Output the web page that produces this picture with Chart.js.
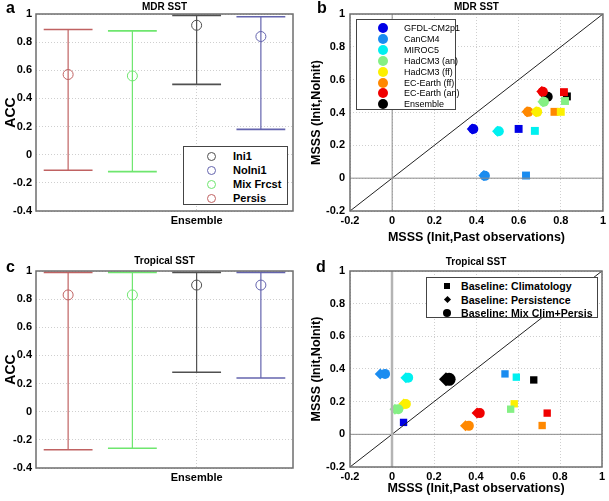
<!DOCTYPE html>
<html>
<head>
<meta charset="utf-8">
<script src="https://cdn.jsdelivr.net/npm/chart.js@4.4.1/dist/chart.umd.min.js"></script>
<style>
  body { margin: 0; background: #fff; width: 609px; height: 501px; position: relative; overflow: hidden;
         font-family: "Liberation Sans", Arial, sans-serif; }
  canvas { position: absolute; }
  .tag { position: absolute; font-weight: bold; font-size: 16px; line-height: 16px; }
  .legend { position: absolute; background: #fff; border: 1px solid #444; box-sizing: border-box; }
  .row { position: absolute; left: 0; right: 0; height: 12px; }
  .row span { position: absolute; top: 0; white-space: nowrap; line-height: 12px; }
  .mk { position: absolute; box-sizing: border-box; }
  #legendA span { font-weight: bold; font-size: 11px; }
  #legendD span { font-weight: bold; font-size: 10.6px; }
  #legendB span { font-size: 9px; }
</style>
</head>
<body>
<canvas id="chartA" width="300" height="245" style="left:0;top:0"></canvas>
<canvas id="chartB" width="309" height="250" style="left:300px;top:0"></canvas>
<canvas id="chartC" width="300" height="251" style="left:0;top:250px"></canvas>
<canvas id="chartD" width="309" height="251" style="left:300px;top:250px"></canvas>

<div class="tag" style="left:6px;top:0px">a</div>
<div class="tag" style="left:317px;top:0px">b</div>
<div class="tag" style="left:6px;top:259px">c</div>
<div class="tag" style="left:316px;top:259px">d</div>

<div id="legendA" class="legend" style="left:183px;top:146px;width:105px;height:59px"></div>
<div id="legendB" class="legend" style="left:356px;top:19px;width:100px;height:91px"></div>
<div id="legendD" class="legend" style="left:426px;top:277px;width:172px;height:41px"></div>

<script>
// panels a and c: ACC with error bars
const accSeries = ['Persis', 'Mix Frcst', 'Ini1', 'NoIni1'];
const accColors = ['#c06262', '#6ee66e', '#505050', '#6464ae'];
const mdrAcc = [0.57, 0.56, 0.92, 0.84];
const mdrLow = [-0.11, -0.12, 0.50, 0.18];
const mdrHigh = [0.89, 0.88, 0.99, 0.98];
const tropAcc = [0.83, 0.83, 0.90, 0.90];
const tropLow = [-0.27, -0.26, 0.28, 0.24];
const tropHigh = [0.99, 0.99, 0.99, 0.99];
const accTicks = [1, 0.8, 0.6, 0.4, 0.2, 0, -0.2, -0.4];

// panels b and d: MSSS per model, three baselines
const models = ['GFDL-CM2p1', 'CanCM4', 'MIROC5', 'HadCM3 (an)', 'HadCM3 (ff)', 'EC-Earth (ff)', 'EC-Earth (an)', 'Ensemble'];
const modelColors = ['#0000e6', '#1a8cf0', '#00f0f0', '#84f084', '#fcf000', '#ff8800', '#f00000', '#000000'];

const mdrClimX = [0.60, 0.635, 0.677, 0.82, 0.80, 0.77, 0.815, 0.829];
const mdrClimY = [0.30, 0.016, 0.288, 0.47, 0.404, 0.404, 0.524, 0.498];
const mdrPersX = [0.38, 0.435, 0.50, 0.715, 0.683, 0.64, 0.71, 0.73];
const mdrPersY = [0.30, 0.016, 0.286, 0.465, 0.404, 0.404, 0.528, 0.50];
const mdrMixX = [0.385, 0.44, 0.506, 0.72, 0.688, 0.646, 0.715, 0.738];
const mdrMixY = [0.30, 0.014, 0.286, 0.465, 0.404, 0.404, 0.526, 0.496];

const tropClimX = [0.055, 0.538, 0.592, 0.565, 0.582, 0.715, 0.739, 0.675];
const tropClimY = [0.073, 0.37, 0.35, 0.154, 0.187, 0.054, 0.13, 0.333];
const tropPersX = [null, -0.056, 0.066, 0.014, 0.056, 0.35, 0.405, 0.257];
const tropPersY = [null, 0.37, 0.347, 0.154, 0.186, 0.052, 0.13, 0.337];
const tropMixX = [null, -0.033, 0.077, 0.03, 0.066, 0.366, 0.418, 0.272];
const tropMixY = [null, 0.37, 0.347, 0.154, 0.186, 0.052, 0.13, 0.337];

const mssTicks = [-0.2, 0, 0.2, 0.4, 0.6, 0.8, 1];
const baselines = ['Baseline: Climatology', 'Baseline: Persistence', 'Baseline: Mix Clim+Persis'];

const FONT = '"Liberation Sans", Arial, sans-serif';
const tickFont = { family: FONT, size: 11, weight: 'bold' };
const gridStyle = { color: '#cfcfcf', drawTicks: false };
const fmt = v => String(+Number(v).toFixed(1));

const framePlugin = {
  id: 'frame',
  afterDraw(chart) {
    const a = chart.chartArea, ctx = chart.ctx;
    ctx.save();
    ctx.strokeStyle = '#6e6e6e';
    ctx.lineWidth = 1.5;
    ctx.strokeRect(a.left, a.top, a.right - a.left, a.bottom - a.top);
    ctx.restore();
  }
};

function errorSets(center, low, high) {
  const sets = [];
  const cap = 0.38;
  accSeries.forEach((name, i) => {
    const x = i + 1, c = accColors[i];
    const line = { type: 'line', borderColor: c, borderWidth: 1.2, pointRadius: 0, fill: false };
    sets.push({ ...line, data: [{ x, y: low[i] }, { x, y: high[i] }] });
    sets.push({ ...line, borderWidth: 1.6, data: [{ x: x - cap, y: high[i] }, { x: x + cap, y: high[i] }] });
    sets.push({ ...line, borderWidth: 1.6, data: [{ x: x - cap, y: low[i] }, { x: x + cap, y: low[i] }] });
    sets.push({ type: 'scatter', label: name, data: [{ x, y: center[i] }], pointStyle: 'circle',
      pointRadius: 5, borderColor: c, backgroundColor: 'rgba(0,0,0,0)', borderWidth: 1 });
  });
  return sets;
}

function accChart(id, title, center, low, high, areaBottom, h, titlePad) {
  new Chart(document.getElementById(id).getContext('2d'), {
    type: 'scatter',
    data: { datasets: errorSets(center, low, high) },
    options: {
      responsive: false,
      animation: false,
      layout: { padding: { left: 0, right: 7, top: 0, bottom: 0 } },
      plugins: {
        legend: { display: false },
        tooltip: { enabled: false },
        title: { display: true, text: title, fullSize: false, color: '#000',
          font: { family: FONT, size: 10, weight: 'bold' }, padding: titlePad }
      },
      scales: {
        x: {
          type: 'linear', min: 0.5, max: 4.5,
          afterBuildTicks: s => { s.ticks = [{ value: 3 }]; },
          afterFit: s => { s.height = h - areaBottom; },
          ticks: { callback: () => 'Ensemble', font: tickFont, color: '#000', padding: 3, autoSkip: false, maxRotation: 0 },
          grid: gridStyle,
          border: { display: false, dash: [1, 2] }
        },
        y: {
          min: -0.4, max: 1,
          afterBuildTicks: s => { s.ticks = accTicks.map(v => ({ value: v })); },
          afterFit: s => { s.width = 36; },
          ticks: { callback: fmt, font: tickFont, color: '#000', padding: 4 },
          title: { display: true, text: 'ACC', color: '#000', font: { family: FONT, size: 14, weight: 'bold' }, padding: { top: 3, bottom: 0 } },
          grid: gridStyle,
          border: { display: false, dash: [1, 2] }
        }
      }
    },
    plugins: [framePlugin]
  });
}

function skillSets(climX, climY, persX, persY, mixX, mixY, big) {
  const sets = [];
  const ref = { type: 'line', borderWidth: 1, pointRadius: 0, fill: false };
  sets.push({ ...ref, borderColor: big ? '#b4b4b4' : '#8c8c8c', borderWidth: big ? 2.5 : 1, data: [{ x: 0, y: -0.2 }, { x: 0, y: 1 }] });
  sets.push({ ...ref, borderColor: '#8c8c8c', data: [{ x: -0.2, y: 0 }, { x: 1, y: 0 }] });
  sets.push({ ...ref, borderColor: '#222', data: [{ x: -0.2, y: -0.2 }, { x: 1, y: 1 }] });
  models.forEach((m, i) => {
    const c = modelColors[i];
    const ens = big && i === models.length - 1;
    const pt = { type: 'scatter', backgroundColor: c, borderColor: c, borderWidth: 0 };
    sets.push({ ...pt, label: m, data: [{ x: climX[i], y: climY[i] }], pointStyle: 'rect', pointRadius: big ? 5.2 : 5.6 });
    if (persX[i] !== null) {
      sets.push({ ...pt, data: [{ x: persX[i], y: persY[i] }], pointStyle: 'rectRot', pointRadius: ens ? 7 : 5.5 });
      sets.push({ ...pt, data: [{ x: mixX[i], y: mixY[i] }], pointStyle: 'circle', pointRadius: ens ? 6.5 : 5 });
    }
  });
  return sets;
}

function skillChart(id, title, sets, areaBottom, h, titlePad) {
  new Chart(document.getElementById(id).getContext('2d'), {
    type: 'scatter',
    data: { datasets: sets },
    options: {
      responsive: false,
      animation: false,
      layout: { padding: { left: 0, right: 3, top: 0, bottom: 0 } },
      plugins: {
        legend: { display: false },
        tooltip: { enabled: false },
        title: { display: true, text: title, fullSize: false, color: '#000',
          font: { family: FONT, size: 10, weight: 'bold' }, padding: titlePad }
      },
      scales: {
        x: {
          type: 'linear', min: -0.2, max: 1,
          afterBuildTicks: s => { s.ticks = mssTicks.map(v => ({ value: v })); },
          afterFit: s => { s.height = h - areaBottom; },
          ticks: { callback: fmt, font: tickFont, color: '#000', padding: 3, autoSkip: false, maxRotation: 0 },
          title: { display: true, text: 'MSSS (Init,Past observations)', color: '#000',
            font: { family: FONT, size: 12.5, weight: 'bold' }, padding: { top: 0, bottom: 5 } },
          grid: gridStyle,
          border: { display: false, dash: [1, 2] }
        },
        y: {
          min: -0.2, max: 1,
          afterBuildTicks: s => { s.ticks = mssTicks.map(v => ({ value: v })); },
          afterFit: s => { s.width = 50; },
          ticks: { callback: fmt, font: tickFont, color: '#000', padding: 5 },
          title: { display: true, text: 'MSSS (Init,NoInit)', color: '#000',
            font: { family: FONT, size: 12.5, weight: 'bold' }, padding: { top: 9, bottom: 0 } },
          grid: gridStyle,
          border: { display: false, dash: [1, 2] }
        }
      }
    },
    plugins: [framePlugin]
  });
}

accChart('chartA', 'MDR SST', mdrAcc, mdrLow, mdrHigh, 211, 245, { top: 1, bottom: 1 });
accChart('chartC', 'Tropical SST', tropAcc, tropLow, tropHigh, 218, 251, { top: 5, bottom: 4 });
skillChart('chartB', 'MDR SST', skillSets(mdrClimX, mdrClimY, mdrPersX, mdrPersY, mdrMixX, mdrMixY, false), 211, 250, { top: 1, bottom: 1 });
skillChart('chartD', 'Tropical SST', skillSets(tropClimX, tropClimY, tropPersX, tropPersY, tropMixX, tropMixY, true), 217, 251, { top: 6, bottom: 3 });

// legends (html boxes laid over the plot areas)
function addRow(box, top, markerHtml, textLeft, text) {
  const row = document.createElement('div');
  row.className = 'row';
  row.style.top = top + 'px';
  row.innerHTML = markerHtml + '<span style="left:' + textLeft + 'px">' + text + '</span>';
  box.appendChild(row);
}

const legA = document.getElementById('legendA');
[2, 3, 1, 0].forEach((idx, r) => {
  const c = accColors[idx];
  addRow(legA, 3 + r * 14,
    '<div class="mk" style="left:23px;top:2px;width:9px;height:9px;border:1px solid ' + c + ';border-radius:50%"></div>',
    49, accSeries[idx]);
});

const legB = document.getElementById('legendB');
models.forEach((m, r) => {
  addRow(legB, 2 + r * 10.9,
    '<div class="mk" style="left:21px;top:1px;width:10px;height:10px;background:' + modelColors[r] + ';border-radius:50%"></div>',
    47, m);
});

const legD = document.getElementById('legendD');
const dMarks = [
  '<div class="mk" style="left:17px;top:3px;width:6px;height:6px;background:#000"></div>',
  '<div class="mk" style="left:17.5px;top:3.5px;width:5px;height:5px;background:#000;transform:rotate(45deg)"></div>',
  '<div class="mk" style="left:16px;top:2px;width:8px;height:8px;background:#000;border-radius:50%"></div>'
];
baselines.forEach((b, r) => {
  addRow(legD, 2 + r * 13.5, dMarks[r], 34, b);
});
</script>
</body>
</html>
